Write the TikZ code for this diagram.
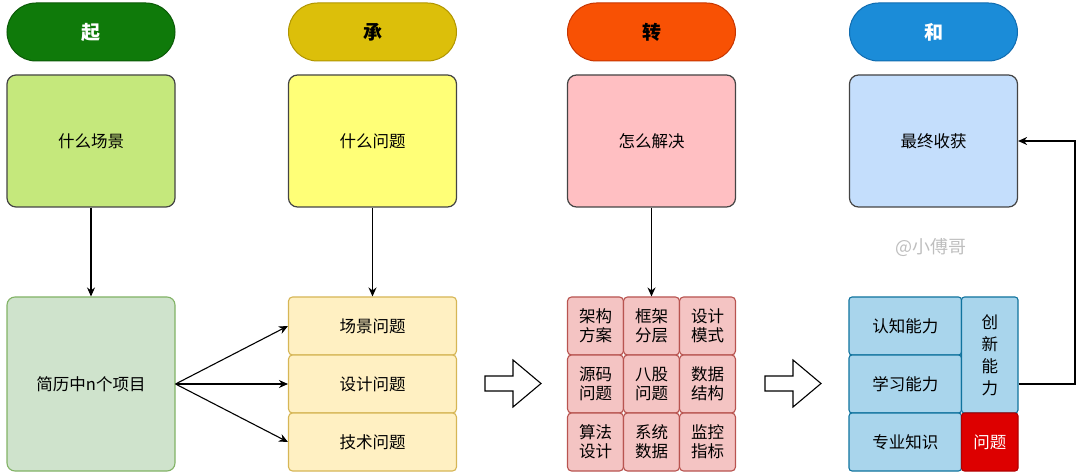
\documentclass[tikz,border=0pt]{standalone}
\usepackage{fontspec}
\setmainfont{Noto Sans CJK SC}
\usetikzlibrary{arrows.meta}
\definecolor{qiF}{HTML}{0F7A0A}\definecolor{qiD}{HTML}{0B5A07}
\definecolor{chF}{HTML}{DCBF0A}\definecolor{chD}{HTML}{B09500}
\definecolor{zhF}{HTML}{F85104}\definecolor{zhD}{HTML}{C73500}
\definecolor{heF}{HTML}{1B8CD8}\definecolor{heD}{HTML}{106CB0}
\definecolor{b1}{HTML}{C5E87C}\definecolor{b2}{HTML}{FFFF77}
\definecolor{b3}{HTML}{FFBFC2}\definecolor{b4}{HTML}{C4DEFC}
\definecolor{bD}{HTML}{444444}
\definecolor{gF}{HTML}{CFE3CC}\definecolor{gD}{HTML}{82B366}
\definecolor{yF}{HTML}{FFF0C2}\definecolor{yD}{HTML}{D6B656}
\definecolor{pF}{HTML}{F4C4C3}\definecolor{pD}{HTML}{B85450}
\definecolor{lbF}{HTML}{A9D5EC}\definecolor{lbD}{HTML}{10739E}
\definecolor{rF}{HTML}{DD0000}\definecolor{rD}{HTML}{B20000}
\definecolor{wm}{HTML}{BEBEBE}
\tikzset{
  pill/.style={draw, line width=1pt, rounded corners=29pt, minimum width=168pt, minimum height=58pt, inner sep=0pt, font=\fontsize{19}{21}\selectfont\bfseries},
  bigbox/.style={draw=bD, line width=1.2pt, rounded corners=9pt, minimum width=168pt, minimum height=132pt, inner sep=0pt, font=\fontsize{16.5}{19}\selectfont},
  cell/.style={draw, line width=1.1pt, rounded corners=4pt, inner sep=0pt, font=\fontsize{16.5}{19}\selectfont, align=center},
  conn/.style={line width=1.1pt, -{Stealth[length=9pt,width=8pt]}},
  hollow/.style={draw=black, line width=1.1pt, fill=white}
}
\begin{document}
\begin{tikzpicture}[x=1pt,y=-1pt]
\useasboundingbox (0,0) rectangle (1080,473);
% pills
\node[pill, fill=qiF, draw=qiD, text=white] (p1) at (91,32) {起};
\node[pill, fill=chF, draw=chD, text=black] (p2) at (372.5,32) {承};
\node[pill, fill=zhF, draw=zhD, text=black] (p3) at (651.5,32) {转};
\node[pill, fill=heF, draw=heD, text=white] (p4) at (933.5,32) {和};
% big boxes
\node[bigbox, fill=b1] (q1) at (91,141) {什么场景};
\node[bigbox, fill=b2] (q2) at (372.5,141) {什么问题};
\node[bigbox, fill=b3] (q3) at (651.5,141) {怎么解决};
\node[bigbox, fill=b4] (q4) at (933.5,141) {最终收获};
% col 1
\node[cell, fill=gF, draw=gD, rounded corners=8pt, minimum width=168pt, minimum height=174pt] (jl) at (91,384) {简历中n个项目};
% col 2
\node[cell, fill=yF, draw=yD, minimum width=168pt, minimum height=58pt] (y1) at (372.5,326) {场景问题};
\node[cell, fill=yF, draw=yD, minimum width=168pt, minimum height=58pt] (y2) at (372.5,384) {设计问题};
\node[cell, fill=yF, draw=yD, minimum width=168pt, minimum height=58pt] (y3) at (372.5,442) {技术问题};
% col 3 grid
\tikzset{pc/.style={cell, fill=pF, draw=pD, minimum width=56pt, minimum height=58pt}}
\node[pc] (g11) at (595.5,326) {架构\\方案};
\node[pc] (g12) at (651.5,326) {框架\\分层};
\node[pc] (g13) at (707.5,326) {设计\\模式};
\node[pc] (g21) at (595.5,384) {源码\\问题};
\node[pc] (g22) at (651.5,384) {八股\\问题};
\node[pc] (g23) at (707.5,384) {数据\\结构};
\node[pc] (g31) at (595.5,442) {算法\\设计};
\node[pc] (g32) at (651.5,442) {系统\\数据};
\node[pc] (g33) at (707.5,442) {监控\\指标};
% col 4 grid
\tikzset{bc/.style={cell, fill=lbF, draw=lbD, rounded corners=3pt}}
\node[bc, minimum width=112.5pt, minimum height=58pt] (h1) at (905.25,326) {认知能力};
\node[bc, minimum width=112.5pt, minimum height=58pt] (h2) at (905.25,384) {学习能力};
\node[bc, minimum width=112.5pt, minimum height=58pt] (h3) at (905.25,442) {专业知识};
\node[bc, minimum width=56.5pt, minimum height=116pt, font=\fontsize{16.5}{22}\selectfont] (h4) at (989.75,355) {创\\新\\能\\力};
\node[cell, fill=rF, draw=rD, rounded corners=3pt, text=white, minimum width=56.5pt, minimum height=58pt] (h5) at (989.75,442) {问题};
% watermark
\node[text=wm, font=\fontsize{18}{20}\selectfont, inner sep=0pt] (wmk) at (931,248) {@小傅哥};
% connectors
\draw[conn] (q1.south) -- (jl.north);
\draw[conn] (q2.south) -- (y1.north);
\draw[conn] (q3.south) -- (g12.north);
\draw[conn] (jl.east) -- (y1.west);
\draw[conn] (jl.east) -- (y2.west);
\draw[conn] (jl.east) -- (y3.west);
\draw[conn] (h4.east |- h2.center) -- (1075,384) -- (1075,141) -- (q4.east);
% hollow arrows
\draw[hollow] (485,376) -- (513,376) -- (513,360) -- (541,383.5) -- (513,407) -- (513,391) -- (485,391) -- cycle;
\draw[hollow] (765,376) -- (793,376) -- (793,360) -- (821,383.5) -- (793,407) -- (793,391) -- (765,391) -- cycle;
\end{tikzpicture}
\end{document}
